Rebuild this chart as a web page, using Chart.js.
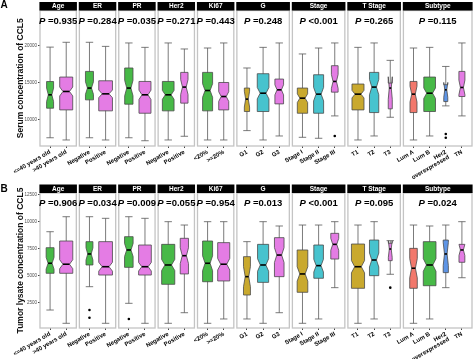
<!DOCTYPE html>
<html>
<head>
<meta charset="utf-8">
<script src="https://cdn.jsdelivr.net/npm/chart.js@4.4.1/dist/chart.umd.min.js"></script>
<style>
  html, body { margin: 0; padding: 0; background: #fff; }
  #wrap { position: relative; width: 474px; height: 359px; overflow: hidden; }
  canvas { position: absolute; left: 0; }
</style>
</head>
<body>
<div id="wrap">
  <canvas id="chartA" width="474" height="180" style="top:0px"></canvas>
  <canvas id="chartB" width="474" height="179" style="top:180px"></canvas>
</div>
<script>
// --- facets and categories ---
const facetNames = ['Age', 'ER', 'PR', 'Her2', 'Ki67', 'G', 'Stage', 'T Stage', 'Subtype'];
const facetLevels = [
  ['<=40 years old', '>40 years old'],
  ['Negative', 'Positive'],
  ['Negative', 'Positive'],
  ['Negative', 'Positive'],
  ['<20%', '>=20%'],
  ['G1', 'G2', 'G3'],
  ['Stage I', 'Stage II', 'Stage III'],
  ['T1', 'T2', 'T3'],
  ['Lum A', 'Lum B', ['Her2', 'overexpressed'], 'TN']
];

// --- A : serum CCL5 (one value per category, in facet order) ---
const serumP   = ['=0.935', '=0.284', '=0.035', '=0.271', '=0.443', '=0.248', '<0.001', '=0.265', '=0.115'];
const serumMin = [7600, 7300, 7600, 7300, 7600, 7200, 7300, 7800, 7300, 7300, 8560, 7300, 7840, 7660, 7530, 10540, 7300, 7840, 10360, 7300, 7840, 11890, 10540];
const serumQ1  = [11580, 11350, 12700, 11220, 12120, 10900, 11220, 12260, 11220, 11350, 11130, 11130, 12160, 10900, 10900, 13740, 11350, 10990, 11490, 10990, 11130, 12470, 13150];
const serumMed = [13380, 13830, 14290, 13510, 14290, 13380, 13380, 14420, 13960, 13150, 12800, 13600, 14050, 12930, 13470, 15180, 13470, 14420, 14290, 13470, 13600, 14050, 14370];
const serumQ3  = [15170, 15770, 16530, 15270, 16990, 15180, 15180, 16400, 16400, 15040, 14290, 16220, 15500, 14290, 16080, 17300, 14830, 16400, 14960, 15180, 15770, 14740, 16530];
const serumMax = [19800, 20450, 20450, 19900, 20360, 19770, 20360, 19550, 19680, 20360, 16990, 19770, 20360, 18880, 19680, 20360, 19770, 20360, 18020, 19680, 19770, 17200, 20360];
const serumN   = [39, 135, 51, 150, 55, 115, 109, 43, 80, 80, 22, 109, 60, 85, 80, 36, 115, 69, 13, 39, 109, 13, 29];
const serumOutCat = [15, 21, 21];
const serumOutVal = [7840, 8110, 7610];
const serumTicks  = [10000, 15000, 20000];

// --- B : tumor lysate CCL5 ---
const lysateP   = ['=0.906', '=0.034', '=0.009', '=0.055', '=0.954', '=0.013', '<0.001', '=0.095', '=0.024'];
const lysateMin = [1850, 620, 4010, 620, 2470, 620, 620, 1600, 620, 1020, 1020, 620, 1600, 620, 1020, 3920, 620, 1020, 5160, 620, 1020, 3920, 4840];
const lysateQ1  = [5250, 5250, 6020, 5090, 5800, 5090, 4230, 5190, 4470, 4540, 3240, 4410, 4940, 3490, 4790, 6570, 3860, 5030, 6420, 3860, 4100, 5310, 6270];
const lysateMed = [6180, 6090, 7040, 5860, 7410, 5860, 6020, 6880, 6180, 6090, 4940, 6020, 6940, 5190, 5960, 7930, 5860, 6480, 7500, 5720, 6020, 7040, 7410];
const lysateQ3  = [7620, 8240, 8180, 8180, 8640, 7870, 7930, 8490, 8240, 8090, 6790, 7930, 8550, 7410, 7870, 8950, 7960, 8330, 8030, 7560, 8180, 8330, 7930];
const lysateMax = [9100, 10490, 10490, 10340, 10490, 10340, 10030, 9720, 10030, 10030, 8180, 10030, 9630, 9720, 9720, 10030, 9720, 10030, 8270, 9720, 9630, 9720, 10030];
const lysateN   = [47, 129, 36, 141, 55, 121, 129, 51, 75, 109, 36, 92, 69, 85, 69, 47, 129, 65, 11, 43, 121, 20, 26];
const lysateOutCat = [2, 2, 4, 18];
const lysateOutVal = [1850, 1140, 1020, 3920];
const lysateTicks  = [2500, 5000, 7500, 10000, 12500];

// --- colours ---
const GREEN = '#47B947', PINK = '#E47CE4', GOLD = '#C9A92E', CYAN = '#47C3CE', SALMON = '#F2786C', BLUE = '#5E95E6';
const boxColors = [GREEN, PINK, GREEN, PINK, GREEN, PINK, GREEN, PINK, GREEN, PINK,
  GOLD, CYAN, PINK, GOLD, CYAN, PINK, GOLD, CYAN, PINK, SALMON, GREEN, BLUE, PINK];

const FONT = '"Liberation Sans", Arial, sans-serif';

// facet layout in x units (one unit per category)
const PAD = 0.125, GAP = 0.19;
const facetSpan = [], catX = [], catLabel = [];
let cursor = 0;
facetLevels.forEach(lv => {
  const start = cursor, end = start + lv.length + 2 * PAD;
  facetSpan.push([start, end]);
  lv.forEach((l, i) => { catX.push(start + PAD + 0.5 + i); catLabel.push(l); });
  cursor = end + GAP;
});
const xMax = cursor - GAP;

function makePanel(cfg) {
  const nMax = Math.max(...cfg.n);

  const facetPlugin = {
    id: 'facetBoxes',
    beforeDatasetsDraw(chart) {
      const { ctx, scales: { x, y } } = chart;
      const unit = x.getPixelForValue(1) - x.getPixelForValue(0);
      ctx.save();
      for (let i = 0; i < catX.length; i++) {
        const cx = x.getPixelForValue(catX[i]);
        const half = 0.85 * unit * Math.sqrt(cfg.n[i] / nMax) / 2;
        const nh = half / 2;
        const cap = 0.23 * unit;
        const notch = 1.58 * (cfg.q3[i] - cfg.q1[i]) / Math.sqrt(cfg.n[i]);
        const pMin = y.getPixelForValue(cfg.min[i]);
        const pMax = y.getPixelForValue(cfg.max[i]);
        const pQ1 = y.getPixelForValue(cfg.q1[i]);
        const pQ3 = y.getPixelForValue(cfg.q3[i]);
        const pMed = y.getPixelForValue(cfg.med[i]);
        const pNu = y.getPixelForValue(cfg.med[i] + notch);
        const pNl = y.getPixelForValue(cfg.med[i] - notch);

        // whiskers + caps
        ctx.strokeStyle = '#595959';
        ctx.lineWidth = 0.8;
        ctx.beginPath();
        ctx.moveTo(cx, pMax); ctx.lineTo(cx, pMin);
        ctx.moveTo(cx - cap, pMax); ctx.lineTo(cx + cap, pMax);
        ctx.moveTo(cx - cap, pMin); ctx.lineTo(cx + cap, pMin);
        ctx.stroke();

        // notched box
        ctx.strokeStyle = '#4a4a4a';
        ctx.beginPath();
        ctx.moveTo(cx - half, pQ3);
        ctx.lineTo(cx - half, pNu);
        ctx.lineTo(cx - nh, pMed);
        ctx.lineTo(cx - half, pNl);
        ctx.lineTo(cx - half, pQ1);
        ctx.lineTo(cx + half, pQ1);
        ctx.lineTo(cx + half, pNl);
        ctx.lineTo(cx + nh, pMed);
        ctx.lineTo(cx + half, pNu);
        ctx.lineTo(cx + half, pQ3);
        ctx.closePath();
        ctx.fillStyle = boxColors[i];
        ctx.fill();
        ctx.stroke();

        // median
        ctx.strokeStyle = '#000';
        ctx.lineWidth = 1.6;
        ctx.beginPath();
        ctx.moveTo(cx - nh, pMed); ctx.lineTo(cx + nh, pMed);
        ctx.stroke();
      }
      ctx.restore();
    },
    afterDraw(chart) {
      const { ctx, chartArea: a, scales: { x } } = chart;
      ctx.save();
      facetSpan.forEach(([s, e], f) => {
        const l = x.getPixelForValue(s), r = x.getPixelForValue(e);
        // panel border
        ctx.strokeStyle = '#c4c4c4';
        ctx.lineWidth = 1.3;
        ctx.strokeRect(l, a.top, r - l, a.bottom - a.top);
        // strip
        ctx.fillStyle = '#000';
        ctx.fillRect(l - 0.6, a.top - 8.5, r - l + 1.2, 8.5);
        ctx.fillStyle = '#fff';
        ctx.font = 'bold 6.5px ' + FONT;
        ctx.textAlign = 'center';
        ctx.textBaseline = 'middle';
        ctx.fillText(facetNames[f], (l + r) / 2, a.top - 4.1);
        // P value
        ctx.fillStyle = '#000';
        const it = 'italic bold 9.5px ' + FONT, bd = 'bold 9.5px ' + FONT;
        const rest = ' ' + cfg.p[f];
        ctx.font = it; const w1 = ctx.measureText('P').width;
        ctx.font = bd; const w2 = ctx.measureText(rest).width;
        const x0 = (l + r) / 2 - (w1 + w2) / 2, yy = a.top + 10.5;
        ctx.textAlign = 'left';
        ctx.font = it; ctx.fillText('P', x0, yy);
        ctx.font = bd; ctx.fillText(rest, x0 + w1, yy);
      });
      // panel letter
      ctx.fillStyle = '#000';
      ctx.font = 'bold 10px ' + FONT;
      ctx.textAlign = 'left';
      ctx.textBaseline = 'alphabetic';
      ctx.fillText(cfg.letter, 0.5, cfg.letterY);
      ctx.restore();
    }
  };

  return new Chart(document.getElementById(cfg.id), {
    type: 'scatter',
    data: {
      datasets: [{
        label: 'outliers',
        data: cfg.outCat.map((c, k) => ({ x: catX[c], y: cfg.outVal[k] })),
        pointRadius: 1.3,
        pointBackgroundColor: '#000',
        pointBorderWidth: 0
      }]
    },
    options: {
      responsive: false,
      animation: false,
      events: [],
      layout: { autoPadding: false, padding: { top: cfg.top, left: 0, right: 2, bottom: 0 } },
      plugins: { legend: { display: false }, tooltip: { enabled: false } },
      scales: {
        x: {
          type: 'linear',
          min: 0,
          max: xMax,
          border: { display: false },
          grid: { display: true, drawOnChartArea: false, drawTicks: true, tickLength: 2, color: '#444' },
          afterBuildTicks: s => { s.ticks = catX.map(v => ({ value: v })); },
          afterFit: s => { s.height = cfg.xAxisH; s.paddingLeft = 0; s.paddingRight = 0; },
          ticks: {
            autoSkip: false,
            minRotation: 30,
            maxRotation: 30,
            padding: 1,
            color: '#000',
            font: { family: FONT, size: 6, weight: 'bold', lineHeight: 1.0 },
            callback: (v, i) => catLabel[i]
          }
        },
        y: {
          min: cfg.yMin,
          max: cfg.yMax,
          border: { display: false },
          grid: { display: true, drawOnChartArea: false, drawTicks: true, tickLength: 2, color: '#444' },
          afterBuildTicks: s => { s.ticks = cfg.ticks.map(v => ({ value: v })); },
          afterFit: s => { s.width = 40; s.paddingTop = 0; s.paddingBottom = 0; },
          ticks: {
            padding: 1,
            color: '#4d4d4d',
            font: { family: FONT, size: 4.5 },
            callback: v => String(v)
          },
          title: {
            display: true,
            text: cfg.yTitle,
            color: '#111',
            padding: { top: 16, bottom: 0 },
            font: { family: FONT, size: 8.5, weight: 'bold' }
          }
        }
      }
    },
    plugins: [facetPlugin]
  });
}

makePanel({
  id: 'chartA', letter: 'A', letterY: 7.5,
  yTitle: 'Serum concentration of CCL5',
  yMin: 6490, yMax: 24730, ticks: serumTicks, top: 10.5, xAxisH: 34,
  p: serumP, min: serumMin, q1: serumQ1, med: serumMed, q3: serumQ3, max: serumMax, n: serumN,
  outCat: serumOutCat, outVal: serumOutVal
});

makePanel({
  id: 'chartB', letter: 'B', letterY: 11.5,
  yTitle: 'Tumor lysate concentration of CCL5',
  yMin: 185, yMax: 12685, ticks: lysateTicks, top: 13, xAxisH: 31,
  p: lysateP, min: lysateMin, q1: lysateQ1, med: lysateMed, q3: lysateQ3, max: lysateMax, n: lysateN,
  outCat: lysateOutCat, outVal: lysateOutVal
});
</script>
</body>
</html>
